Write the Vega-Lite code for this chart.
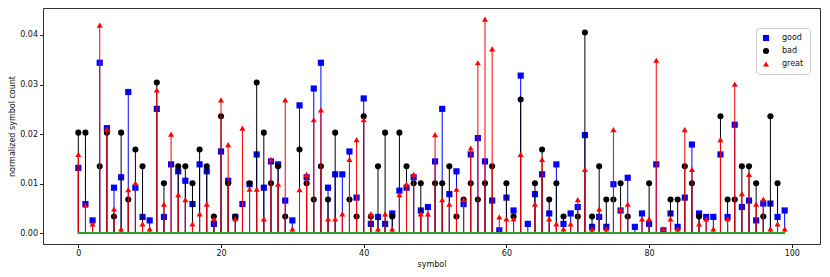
{
  "$schema": "https://vega.github.io/schema/vega-lite/v6.json",
  "width": 777,
  "height": 236,
  "autosize": {"type": "none"},
  "padding": {"left": 43, "top": 8, "right": 10, "bottom": 33},
  "config": {
    "font": "DejaVu Sans",
    "view": {"stroke": "#333", "strokeWidth": 1},
    "axis": {"grid": false, "domain": false, "tickColor": "#222", "tickSize": 3.5, "labelFontSize": 8, "titleFontSize": 8, "labelColor": "#111", "titleColor": "#111", "titleFontWeight": "normal", "labelPadding": 2},
    "legend": {"labelFontSize": 8, "labelColor": "#111"}
  },
  "data": {
    "values": [
      {"symbol":0,"good":0.0132,"bad":0.0203,"great":0.0159},
      {"symbol":1,"good":0.0059,"bad":0.0203,"great":0.0057},
      {"symbol":2,"good":0.0026,"bad":null,"great":0.0019},
      {"symbol":3,"good":0.0344,"bad":0.0135,"great":0.0420},
      {"symbol":4,"good":0.0212,"bad":0.0203,"great":0.0210},
      {"symbol":5,"good":0.0092,"bad":0.0034,"great":0.0049},
      {"symbol":6,"good":0.0113,"bad":0.0203,"great":0.0009},
      {"symbol":7,"good":0.0285,"bad":0.0068,"great":0.0088},
      {"symbol":8,"good":0.0092,"bad":0.0169,"great":0.0101},
      {"symbol":9,"good":0.0033,"bad":0.0135,"great":0.0019},
      {"symbol":10,"good":0.0026,"bad":null,"great":0.0009},
      {"symbol":11,"good":0.0251,"bad":0.0304,"great":0.0289},
      {"symbol":12,"good":0.0033,"bad":0.0101,"great":0.0059},
      {"symbol":13,"good":0.0139,"bad":null,"great":0.0200},
      {"symbol":14,"good":0.0125,"bad":0.0135,"great":0.0078},
      {"symbol":15,"good":0.0106,"bad":0.0135,"great":0.0068},
      {"symbol":16,"good":0.0059,"bad":0.0101,"great":0.0019},
      {"symbol":17,"good":0.0139,"bad":0.0169,"great":0.0039},
      {"symbol":18,"good":0.0125,"bad":0.0135,"great":0.0059},
      {"symbol":19,"good":0.0019,"bad":0.0034,"great":0.0029},
      {"symbol":20,"good":0.0165,"bad":0.0236,"great":0.0269},
      {"symbol":21,"good":0.0106,"bad":0.0101,"great":0.0179},
      {"symbol":22,"good":0.0033,"bad":0.0034,"great":0.0029},
      {"symbol":23,"good":0.0059,"bad":null,"great":0.0212},
      {"symbol":24,"good":0.0099,"bad":0.0101,"great":0.0089},
      {"symbol":25,"good":0.0159,"bad":0.0304,"great":0.0089},
      {"symbol":26,"good":0.0092,"bad":0.0203,"great":0.0029},
      {"symbol":27,"good":0.0145,"bad":0.0101,"great":0.0149},
      {"symbol":28,"good":0.0139,"bad":0.0135,"great":0.0099},
      {"symbol":29,"good":0.0066,"bad":0.0034,"great":0.0269},
      {"symbol":30,"good":0.0026,"bad":null,"great":0.0009},
      {"symbol":31,"good":0.0258,"bad":0.0169,"great":0.0088},
      {"symbol":32,"good":0.0113,"bad":0.0101,"great":0.0119},
      {"symbol":33,"good":0.0292,"bad":0.0068,"great":0.0229},
      {"symbol":34,"good":0.0344,"bad":0.0135,"great":0.0249},
      {"symbol":35,"good":0.0092,"bad":0.0068,"great":0.0029},
      {"symbol":36,"good":0.0119,"bad":0.0203,"great":0.0029},
      {"symbol":37,"good":0.0119,"bad":null,"great":0.0039},
      {"symbol":38,"good":0.0165,"bad":0.0068,"great":0.0149},
      {"symbol":39,"good":0.0072,"bad":0.0034,"great":0.0189},
      {"symbol":40,"good":0.0272,"bad":0.0236,"great":0.0229},
      {"symbol":41,"good":0.0019,"bad":0.0034,"great":0.0039},
      {"symbol":42,"good":0.0033,"bad":0.0135,"great":0.0009},
      {"symbol":43,"good":0.0019,"bad":0.0203,"great":0.0039},
      {"symbol":44,"good":0.0040,"bad":0.0034,"great":0.0009},
      {"symbol":45,"good":0.0086,"bad":0.0203,"great":0.0078},
      {"symbol":46,"good":0.0092,"bad":0.0135,"great":0.0099},
      {"symbol":47,"good":0.0113,"bad":0.0101,"great":0.0119},
      {"symbol":48,"good":0.0046,"bad":0.0101,"great":0.0039},
      {"symbol":49,"good":0.0053,"bad":null,"great":0.0039},
      {"symbol":50,"good":0.0145,"bad":0.0101,"great":0.0199},
      {"symbol":51,"good":0.0251,"bad":0.0101,"great":0.0068},
      {"symbol":52,"good":0.0079,"bad":0.0135,"great":0.0059},
      {"symbol":53,"good":0.0125,"bad":0.0034,"great":0.0089},
      {"symbol":54,"good":0.0059,"bad":0.0068,"great":0.0068},
      {"symbol":55,"good":0.0159,"bad":0.0101,"great":0.0172},
      {"symbol":56,"good":0.0192,"bad":0.0068,"great":0.0344},
      {"symbol":57,"good":0.0145,"bad":0.0101,"great":0.0432},
      {"symbol":58,"good":0.0066,"bad":0.0135,"great":0.0372},
      {"symbol":59,"good":0.0006,"bad":null,"great":0.0033},
      {"symbol":60,"good":0.0072,"bad":0.0101,"great":0.0029},
      {"symbol":61,"good":0.0046,"bad":0.0034,"great":0.0029},
      {"symbol":62,"good":0.0318,"bad":0.0270,"great":0.0159},
      {"symbol":63,"good":0.0019,"bad":null,"great":null},
      {"symbol":64,"good":0.0079,"bad":0.0101,"great":0.0059},
      {"symbol":65,"good":0.0119,"bad":0.0169,"great":0.0149},
      {"symbol":66,"good":0.0040,"bad":0.0068,"great":0.0029},
      {"symbol":67,"good":0.0139,"bad":0.0101,"great":0.0019},
      {"symbol":68,"good":0.0019,"bad":0.0034,"great":0.0009},
      {"symbol":69,"good":0.0040,"bad":null,"great":0.0019},
      {"symbol":70,"good":0.0053,"bad":0.0034,"great":0.0068},
      {"symbol":71,"good":0.0198,"bad":0.0405,"great":0.0129},
      {"symbol":72,"good":0.0013,"bad":0.0034,"great":0.0009},
      {"symbol":73,"good":0.0033,"bad":0.0135,"great":0.0049},
      {"symbol":74,"good":0.0013,"bad":0.0068,"great":0.0009},
      {"symbol":75,"good":0.0099,"bad":0.0068,"great":0.0209},
      {"symbol":76,"good":0.0046,"bad":0.0101,"great":0.0049},
      {"symbol":77,"good":0.0112,"bad":0.0034,"great":0.0059},
      {"symbol":78,"good":0.0013,"bad":null,"great":null},
      {"symbol":79,"good":0.0040,"bad":null,"great":0.0029},
      {"symbol":80,"good":0.0019,"bad":0.0101,"great":0.0029},
      {"symbol":81,"good":0.0139,"bad":null,"great":0.0349},
      {"symbol":82,"good":0.0006,"bad":null,"great":0.0009},
      {"symbol":83,"good":0.0040,"bad":0.0068,"great":0.0029},
      {"symbol":84,"good":0.0013,"bad":0.0068,"great":0.0009},
      {"symbol":85,"good":0.0072,"bad":0.0135,"great":0.0209},
      {"symbol":86,"good":0.0179,"bad":0.0101,"great":0.0129},
      {"symbol":87,"good":0.0040,"bad":0.0034,"great":0.0019},
      {"symbol":88,"good":0.0033,"bad":null,"great":0.0029},
      {"symbol":89,"good":0.0033,"bad":null,"great":0.0009},
      {"symbol":90,"good":0.0159,"bad":0.0236,"great":0.0189},
      {"symbol":91,"good":0.0033,"bad":0.0068,"great":0.0029},
      {"symbol":92,"good":0.0219,"bad":0.0068,"great":0.0301},
      {"symbol":93,"good":0.0053,"bad":0.0135,"great":0.0080},
      {"symbol":94,"good":0.0066,"bad":0.0135,"great":0.0119},
      {"symbol":95,"good":0.0026,"bad":0.0101,"great":0.0059},
      {"symbol":96,"good":0.0060,"bad":0.0034,"great":0.0069},
      {"symbol":97,"good":0.0060,"bad":0.0236,"great":0.0009},
      {"symbol":98,"good":0.0033,"bad":0.0101,"great":0.0019},
      {"symbol":99,"good":0.0046,"bad":null,"great":0.0009}
    ]
  },
  "transform": [
    {"fold": ["good", "bad", "great"], "as": ["type", "count"]},
    {"filter": "datum.count != null"}
  ],
  "encoding": {
    "x": {"field": "symbol", "type": "quantitative", "scale": {"domain": [-4.95, 103.95], "nice": false, "zero": false},
      "axis": {"title": "symbol", "values": [0, 20, 40, 60, 80, 100], "format": "d", "titlePadding": 3}},
    "y": {"field": "count", "type": "quantitative", "scale": {"domain": [-0.00216, 0.04544], "nice": false, "zero": false},
      "axis": {"title": "normalized symbol count", "values": [0, 0.01, 0.02, 0.03, 0.04], "format": ".2f", "titlePadding": 3}}
  },
  "layer": [
    {"transform": [{"filter": "datum.type == 'good'"}], "mark": {"type": "rule", "color": "#0000ff", "strokeWidth": 1}, "encoding": {"y2": {"datum": 0}}},
    {"transform": [{"filter": "datum.type == 'good'"}], "mark": {"type": "point", "filled": true, "opacity": 1},
      "encoding": {
        "color": {"field": "type", "type": "nominal", "scale": {"domain": ["good", "bad", "great"], "range": ["#0000ff", "#000000", "#ff0000"]}, "legend": {"title": null, "orient": "none", "legendX": 713, "legendY": 20, "padding": 6, "strokeColor": "#cccccc", "fillColor": "white", "cornerRadius": 3, "rowPadding": 5, "labelOffset": 12, "symbolStrokeWidth": 0}},
        "shape": {"field": "type", "type": "nominal", "scale": {"domain": ["good", "bad", "great"], "range": ["square", "circle", "triangle-up"]}},
        "size": {"field": "type", "type": "nominal", "scale": {"domain": ["good", "bad", "great"], "range": [38, 36, 55]}}
      }},
    {"transform": [{"filter": "datum.type == 'bad'"}], "mark": {"type": "rule", "color": "#000000", "strokeWidth": 1}, "encoding": {"y2": {"datum": 0}}},
    {"transform": [{"filter": "datum.type == 'bad'"}], "mark": {"type": "point", "filled": true, "opacity": 1},
      "encoding": {
        "color": {"field": "type", "type": "nominal", "scale": {"domain": ["good", "bad", "great"], "range": ["#0000ff", "#000000", "#ff0000"]}},
        "shape": {"field": "type", "type": "nominal", "scale": {"domain": ["good", "bad", "great"], "range": ["square", "circle", "triangle-up"]}},
        "size": {"field": "type", "type": "nominal", "scale": {"domain": ["good", "bad", "great"], "range": [38, 36, 55]}}
      }},
    {"transform": [{"filter": "datum.type == 'great'"}], "mark": {"type": "rule", "color": "#ff0000", "strokeWidth": 1}, "encoding": {"y2": {"datum": 0}}},
    {"transform": [{"filter": "datum.type == 'great'"}], "mark": {"type": "point", "filled": true, "opacity": 1},
      "encoding": {
        "color": {"field": "type", "type": "nominal", "scale": {"domain": ["good", "bad", "great"], "range": ["#0000ff", "#000000", "#ff0000"]}},
        "shape": {"field": "type", "type": "nominal", "scale": {"domain": ["good", "bad", "great"], "range": ["square", "circle", "triangle-up"]}},
        "size": {"field": "type", "type": "nominal", "scale": {"domain": ["good", "bad", "great"], "range": [38, 36, 55]}}
      }},
    {"mark": {"type": "rule", "color": "#2ca02c", "strokeWidth": 1.5},
      "encoding": {"x": {"datum": 0}, "x2": {"datum": 99}, "y": {"datum": 0}}}
  ]
}
